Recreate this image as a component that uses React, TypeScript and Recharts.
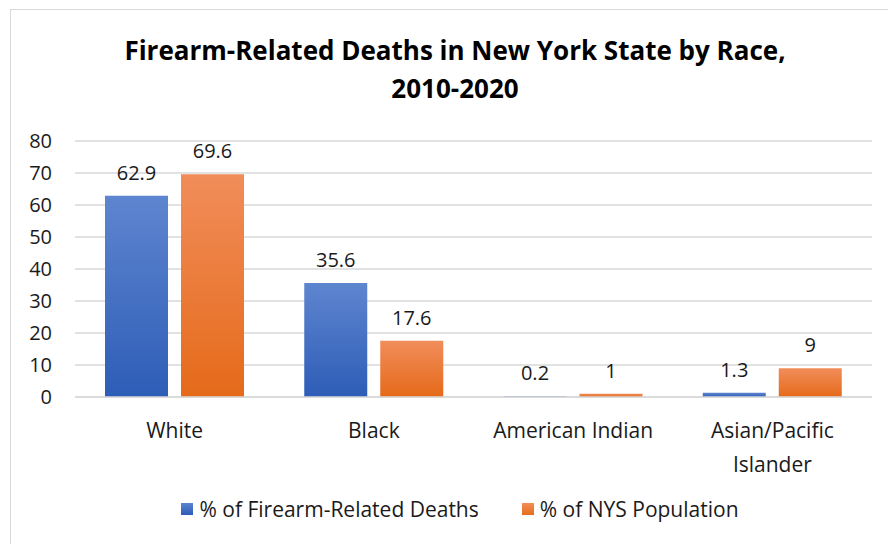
import { BarChart, Bar, XAxis, YAxis, CartesianGrid, LabelList, Legend } from "recharts";

const categories = ["White", "Black", "American Indian", "Asian/Pacific Islander"];
const deathShare = [62.9, 35.6, 0.2, 1.3];
const populationShare = [69.6, 17.6, 1, 9];
const yTicks = [0, 10, 20, 30, 40, 50, 60, 70, 80];

const seriesNames = ["% of Firearm-Related Deaths", "% of NYS Population"];
const FONT = "'Open Sans', Lato, sans-serif";

const data = categories.map((name, i) => ({
  name,
  deaths: deathShare[i],
  population: populationShare[i],
}));

// greedy word wrap by character count
function wrapLabel(s: string, maxChars: number) {
  const lines: string[] = [];
  let cur = "";
  for (const w of s.split(" ")) {
    const next = cur ? `${cur} ${w}` : w;
    if (next.length > maxChars && cur) {
      lines.push(cur);
      cur = w;
    } else {
      cur = next;
    }
  }
  if (cur) lines.push(cur);
  return lines;
}

function CategoryTick({ x, y, payload }: { x?: number; y?: number; payload?: { value: string } }) {
  const lines = wrapLabel(payload?.value ?? "", 15);
  return (
    <text x={x} y={(y ?? 0) + 39} textAnchor="middle" fontSize={21} fontFamily={FONT} fill="#1a1a1a">
      {lines.map((l, i) => (
        <tspan key={i} x={x} dy={i === 0 ? 0 : 34}>
          {l}
        </tspan>
      ))}
    </text>
  );
}

const swatches = [
  ["#5b83d0", "#2e5cb6"],
  ["#f28f58", "#e66c1c"],
];

function LegendBox() {
  return (
    <div
      style={{
        display: "flex",
        justifyContent: "center",
        gap: 43,
        paddingLeft: 48,
        fontFamily: FONT,
        fontSize: 21,
        color: "#1a1a1a",
      }}
    >
      {seriesNames.map((n, i) => (
        <div key={n} style={{ display: "flex", alignItems: "center", gap: 6 }}>
          <svg width={12} height={12}>
            <defs>
              <linearGradient id={`lg${i}`} x1="0" y1="0" x2="0" y2="1">
                <stop offset="0%" stopColor={swatches[i][0]} />
                <stop offset="100%" stopColor={swatches[i][1]} />
              </linearGradient>
            </defs>
            <rect width={12} height={12} fill={`url(#lg${i})`} />
          </svg>
          <span>{n}</span>
        </div>
      ))}
    </div>
  );
}

export default function App() {
  return (
    <div style={{ position: "absolute", left: 0, top: 0, width: 888, height: 544, overflow: "hidden", background: "#fff" }}>
      <div style={{ position: "absolute", left: 10, top: 9, width: 1000, height: 1000, border: "1px solid #d9d9d9" }} />
      <div
        style={{
          position: "absolute",
          left: 55,
          width: 800,
          top: 31,
          textAlign: "center",
          fontFamily: FONT,
          fontWeight: 700,
          fontSize: 26,
          lineHeight: "38px",
          color: "#000",
        }}
      >
        Firearm-Related Deaths in New York State by Race,
        <br />
        2010-2020
      </div>
      <div style={{ position: "absolute", left: 0, top: 0 }}>
        <BarChart
          width={888}
          height={544}
          data={data}
          margin={{ top: 141, right: 16, bottom: 19, left: 0 }}
          barCategoryGap={30}
          barGap={13}
        >
          <defs>
            <linearGradient id="gradBlue" x1="0" y1="0" x2="0" y2="1">
              <stop offset="0%" stopColor="#5e85cf" />
              <stop offset="100%" stopColor="#2e5db7" />
            </linearGradient>
            <linearGradient id="gradOrange" x1="0" y1="0" x2="0" y2="1">
              <stop offset="0%" stopColor="#f18d5a" />
              <stop offset="100%" stopColor="#e56a1a" />
            </linearGradient>
          </defs>
          <CartesianGrid vertical={false} stroke="#d9d9d9" strokeWidth={1.5} />
          <XAxis
            dataKey="name"
            height={98}
            interval={0}
            tickLine={false}
            tickSize={0}
            axisLine={{ stroke: "#d9d9d9", strokeWidth: 1.5 }}
            tick={<CategoryTick />}
          />
          <YAxis
            width={75}
            domain={[0, 80]}
            ticks={yTicks}
            tickLine={false}
            tickSize={0}
            tickMargin={23}
            axisLine={false}
            tick={{ fontSize: 20, fontFamily: FONT, fill: "#1a1a1a" }}
          />
          <Legend verticalAlign="bottom" height={30} content={<LegendBox />} />
          <Bar dataKey="deaths" name={seriesNames[0]} fill="url(#gradBlue)" isAnimationActive={false}>
            <LabelList dataKey="deaths" position="top" offset={16} fontSize={20} fontFamily={FONT} fill="#1a1a1a" />
          </Bar>
          <Bar dataKey="population" name={seriesNames[1]} fill="url(#gradOrange)" isAnimationActive={false}>
            <LabelList dataKey="population" position="top" offset={16} fontSize={20} fontFamily={FONT} fill="#1a1a1a" />
          </Bar>
        </BarChart>
      </div>
    </div>
  );
}
